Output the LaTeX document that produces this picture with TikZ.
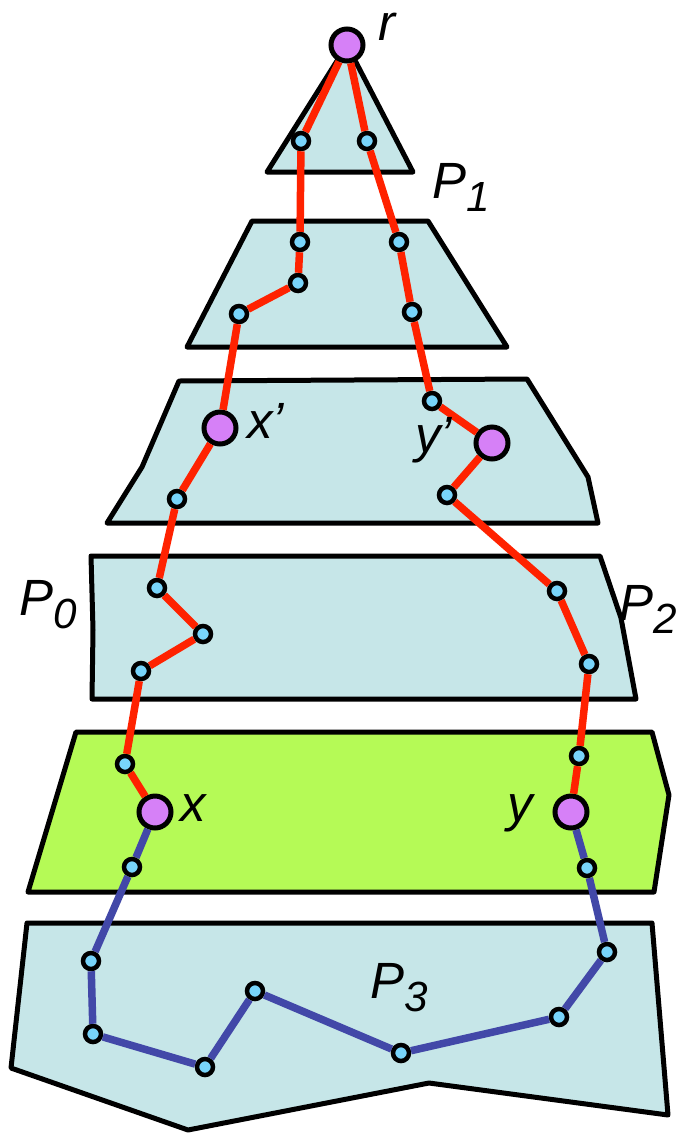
\documentclass[tikz,border=0pt]{standalone}
\usepackage{fontspec}
\setmainfont{Liberation Sans}
\usepackage{xcolor}
\definecolor{celeste}{RGB}{198,230,232}
\definecolor{verde}{RGB}{181,250,86}
\definecolor{rojo}{RGB}{255,34,0}
\definecolor{azul}{RGB}{66,72,168}
\definecolor{punto}{RGB}{120,212,250}
\definecolor{lila}{RGB}{214,128,247}
\newcommand{\etq}[2]{#1\raisebox{-0.27em}{\fontsize{24pt}{24pt}\selectfont #2}}

\begin{document}
\begin{tikzpicture}[x=0.02cm, y=-0.02cm,
  region/.style={line width=0.1cm, line join=round, fill=celeste},
  chico/.style={circle, draw, line width=0.09cm, fill=punto, inner sep=0pt, minimum size=0.32cm},
  grande/.style={circle, draw, line width=0.1cm, fill=lila, inner sep=0pt, minimum size=0.64cm},
  caminoR/.style={draw=rojo, line width=0.15cm, line join=round},
  caminoA/.style={draw=azul, line width=0.15cm, line join=round},
  texto/.style={anchor=base west, inner sep=0pt, font=\fontsize{29pt}{30pt}\selectfont\itshape}]
\useasboundingbox (0,0) rectangle (677,1133);

% Regiones
\draw[region] (347,45) -- (413,172) -- (267,172) -- cycle;
\draw[region] (252,221) -- (428,221) -- (507,347) -- (187,347) -- cycle;
\draw[region] (179,381) -- (527,379) -- (588,477) -- (598,523) -- (107,523) -- (142,467) -- cycle;
\draw[region] (91,556) -- (600,556) -- (621,618) -- (636,699) -- (92,699) -- (93,630) -- cycle;
\draw[region, fill=verde] (76,732) -- (652,732) -- (669,795) -- (654,892) -- (28,892) -- cycle;
\draw[region] (27,923) -- (652,923) -- (668,1115) -- (429,1083) -- (188,1130) -- (11,1068) -- cycle;

% Vertices
\node[grande] (r) at (347,45) {};
\node[grande] (xp) at (220,428) {};
\node[grande] (yp) at (492,443) {};
\node[grande] (x) at (155,812) {};
\node[grande] (y) at (571,812) {};

\node[chico] (a1) at (301,141) {};
\node[chico] (a2) at (300,242) {};
\node[chico] (a3) at (298,283) {};
\node[chico] (a4) at (239,314) {};
\node[chico] (a5) at (177,499) {};
\node[chico] (a6) at (157,588) {};
\node[chico] (a7) at (203,634) {};
\node[chico] (a8) at (141,671) {};
\node[chico] (a9) at (125,764) {};

\node[chico] (b1) at (367,141) {};
\node[chico] (b2) at (399,242) {};
\node[chico] (b3) at (412,312) {};
\node[chico] (b4) at (432,401) {};
\node[chico] (b5) at (447,495) {};
\node[chico] (b6) at (557,591) {};
\node[chico] (b7) at (589,664) {};
\node[chico] (b8) at (579,756) {};

\node[chico] (c1) at (132,867) {};
\node[chico] (c2) at (91,961) {};
\node[chico] (c3) at (93,1034) {};
\node[chico] (c4) at (205,1067) {};
\node[chico] (c5) at (255,991) {};
\node[chico] (c6) at (401,1053) {};
\node[chico] (c7) at (559,1017) {};
\node[chico] (c8) at (607,952) {};
\node[chico] (c9) at (587,868) {};

% Caminos
\draw[caminoR] (r) -- (a1) -- (a2) -- (a3) -- (a4) -- (xp) -- (a5) -- (a6) -- (a7) -- (a8) -- (a9) -- (x);
\draw[caminoR] (r) -- (b1) -- (b2) -- (b3) -- (b4) -- (yp) -- (b5) -- (b6) -- (b7) -- (b8) -- (y);
\draw[caminoA] (x) -- (c1) -- (c2) -- (c3) -- (c4) -- (c5) -- (c6) -- (c7) -- (c8) -- (c9) -- (y);

% Etiquetas
\node[texto] (lr) at (378,40) {r};
\node[texto] (lxp) at (247,438) {x’};
\node[texto] (lyp) at (415,452) {y’};
\node[texto] (lx) at (180,821) {x};
\node[texto] (ly) at (507,821) {y};
\node[texto] (p1) at (432,198) {\etq{P}{1}};
\node[texto] (p0) at (19,615) {\etq{P}{0}};
\node[texto] (p2) at (619,620) {\etq{P}{2}};
\node[texto] (p3) at (370,998) {\etq{P}{3}};

\end{tikzpicture}
\end{document}
